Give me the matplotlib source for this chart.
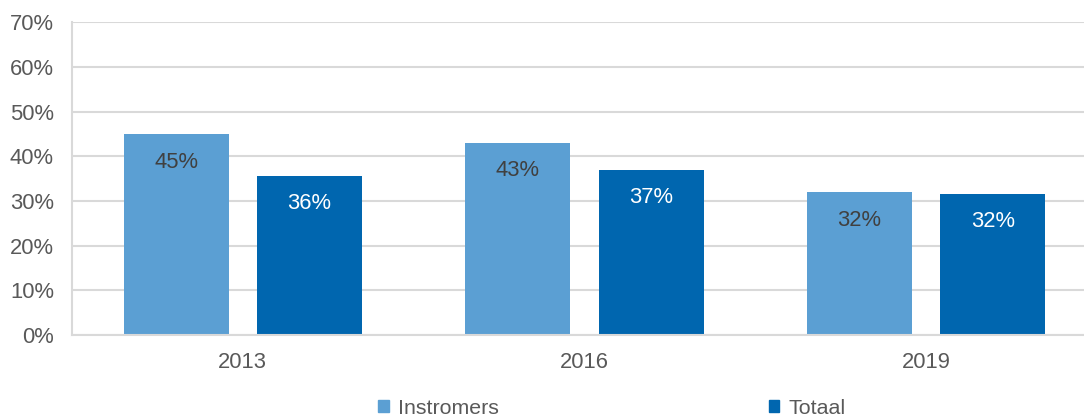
import numpy as np
import matplotlib
matplotlib.use("Agg")
import matplotlib.pyplot as plt
from matplotlib.patches import Patch
from matplotlib.ticker import PercentFormatter

plt.rcParams['font.family'] = ['Liberation Sans', 'DejaVu Sans']

years = ['2013', '2016', '2019']
instromers = [44.9, 43.0, 31.9]
totaal = [35.6, 36.9, 31.6]
labels_instromers = ['45%', '43%', '32%']
labels_totaal = ['36%', '37%', '32%']

c_light = '#5B9FD3'
c_dark = '#0066AF'
fs = 15.8


def main():
    fig = plt.figure(figsize=(10.84, 4.19), dpi=100)
    # axes runs slightly past the right edge, like the cropped original
    ax = fig.add_axes([72 / 1084, 84 / 419, 1025 / 1084, 312.7 / 419])

    x = np.arange(len(years))
    w = 0.307
    off = 0.195
    b1 = ax.bar(x - off, instromers, w, color=c_light, zorder=2)
    b2 = ax.bar(x + off, totaal, w, color=c_dark, zorder=2)

    for bars, labs, clr in [(b1, labels_instromers, '#404040'), (b2, labels_totaal, 'white')]:
        for rect, lab in zip(bars, labs):
            ax.annotate(lab, (rect.get_x() + rect.get_width() / 2, rect.get_height()),
                        xytext=(0, -20), textcoords='offset points',
                        ha='center', va='center', fontsize=fs, color=clr, zorder=3)

    ax.set_xlim(-0.5, 2.5)
    ax.set_ylim(0, 70)
    ax.set_yticks(np.arange(0, 71, 10))
    ax.yaxis.set_major_formatter(PercentFormatter(decimals=0))
    ax.set_xticks(x)
    ax.set_xticklabels(years)
    ax.tick_params(axis='both', length=0, labelsize=fs, labelcolor='#595959')
    ax.tick_params(axis='y', pad=13)
    ax.tick_params(axis='x', pad=12)
    ax.grid(axis='y', color='#D9D9D9', linewidth=1.5, zorder=0)
    for s in ['top', 'right']:
        ax.spines[s].set_visible(False)
    for s in ['left', 'bottom']:
        ax.spines[s].set_color('#D9D9D9')
        ax.spines[s].set_linewidth(1.5)

    handles = [Patch(color=c_light, label='Instromers'), Patch(color=c_dark, label='Totaal')]
    fig.legend(handles=handles, loc='center', bbox_to_anchor=(612 / 1084, 1 - 408 / 419),
               ncol=2, frameon=False, fontsize=15.4, handlelength=0.5, handleheight=0.5,
               handletextpad=0.45, columnspacing=12.6, labelcolor='#595959')

    fig.savefig('out.png', dpi=100)


if __name__ == "__main__":
    main()
